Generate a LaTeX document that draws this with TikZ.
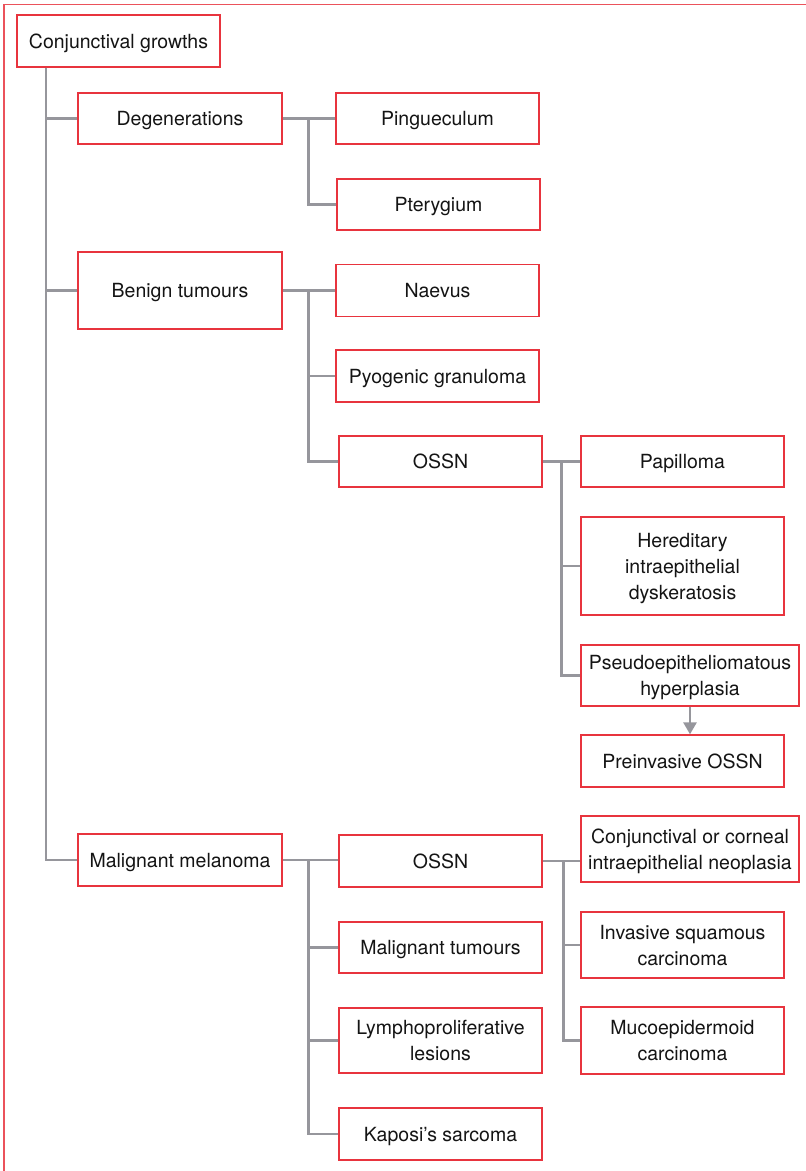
\documentclass[tikz,border=0pt]{standalone}
\usepackage{fontspec}
\setmainfont{TeX Gyre Heros}
\usetikzlibrary{calc,arrows.meta}
\definecolor{boxred}{RGB}{232,52,62}
\definecolor{linegray}{RGB}{150,150,156}
\definecolor{txt}{RGB}{20,20,20}
\begin{document}
\begin{tikzpicture}[x=1pt,y=-1pt,
  bx/.style={draw=boxred,line width=1.3pt,fill=white,text=txt,inner sep=0pt,text depth=0pt,
    align=center,font=\fontsize{19.5}{26}\selectfont,minimum width=203pt,minimum height=52pt},
  conn/.style={draw=linegray,line width=2.6pt}]
\useasboundingbox (0,0) rectangle (806,1171);
% outer frame
\draw[boxred!85,line width=1.6pt] (4,1171) -- (4,4.5) -- (806,4.5);
% nodes
\node[bx] (cg) at (118.5,41) {Conjunctival growths};
\node[bx,minimum width=204pt,minimum height=51pt] (deg) at (180,118.5) {Degenerations};
\node[bx,minimum height=51pt] (ping) at (437.5,118.5) {Pingueculum};
\node[bx,minimum height=51pt] (pter) at (438.5,204.5) {Pterygium};
\node[bx,minimum width=204pt,minimum height=77pt] (ben) at (180,290.5) {Benign tumours};
\node[bx] (naev) at (437.5,290.5) {Naevus};
\node[bx] (pyo) at (437.5,376) {Pyogenic granuloma};
\node[bx,minimum height=51pt] (ossna) at (440.5,461.5) {OSSN};
\node[bx,minimum height=51pt] (pap) at (682.5,461.5) {Papilloma};
\node[bx,minimum height=98pt] (her) at (682.5,566) {Hereditary\\intraepithelial\\dyskeratosis};
\node[bx,minimum width=218pt,minimum height=61pt] (pseudo) at (690,675.5) {Pseudoepitheliomatous\\hyperplasia};
\node[bx] (preinv) at (682.5,761) {Preinvasive OSSN};
\node[bx,minimum width=204pt] (mm) at (180,860) {Malignant melanoma};
\node[bx] (ossnb) at (440.5,861) {OSSN};
\node[bx,minimum width=218pt,minimum height=66pt] (conj) at (690,849) {Conjunctival or corneal\\intraepithelial neoplasia};
\node[bx,minimum height=51pt] (mt) at (440.5,947.5) {Malignant tumours};
\node[bx,minimum height=66pt] (inv) at (682.5,945) {Invasive squamous\\carcinoma};
\node[bx,minimum height=65pt] (lym) at (440.5,1040.5) {Lymphoproliferative\\lesions};
\node[bx,minimum height=67pt] (muc) at (682.5,1040.5) {Mucoepidermoid\\carcinoma};
\node[bx] (kap) at (440.5,1134) {Kaposi’s sarcoma};
% connectors
\coordinate (t0) at ($(cg.south west)+(29.5,0)$);
\draw[conn] (t0) |- (deg.west);
\draw[conn] (t0) |- (ben.west);
\draw[conn] (t0) |- (mm.west);
\coordinate (j1) at ($(deg.east)+(26,0)$);
\draw[conn] (deg.east) -- (ping.west);
\draw[conn] (j1) |- (pter.west);
\coordinate (j2) at ($(ben.east)+(26,0)$);
\draw[conn] (ben.east) -- (naev.west);
\draw[conn] (j2) |- (pyo.west);
\draw[conn] (j2) |- (ossna.west);
\coordinate (j3) at ($(ossna.east)+(19,0)$);
\draw[conn] (ossna.east) -- (pap.west);
\draw[conn] (j3) |- (her.west);
\draw[conn] (j3) |- (pseudo.west);
\draw[conn,-{Triangle[length=12pt,width=13pt]}] (pseudo.south) -- (pseudo.south |- preinv.north);
\coordinate (j4) at ($(mm.east)+(26,0)$);
\draw[conn] (mm.east) -- (mm.east -| ossnb.west);
\draw[conn] (j4) |- (mt.west);
\draw[conn] (j4) |- (lym.west);
\draw[conn] (j4) |- (kap.west);
\coordinate (j5) at ($(ossnb.east)+(21,0)$);
\draw[conn] (ossnb.east) -- (ossnb.east -| conj.west);
\draw[conn] (j5) |- (inv.west);
\draw[conn] (j5) |- (muc.west);
\end{tikzpicture}
\end{document}
